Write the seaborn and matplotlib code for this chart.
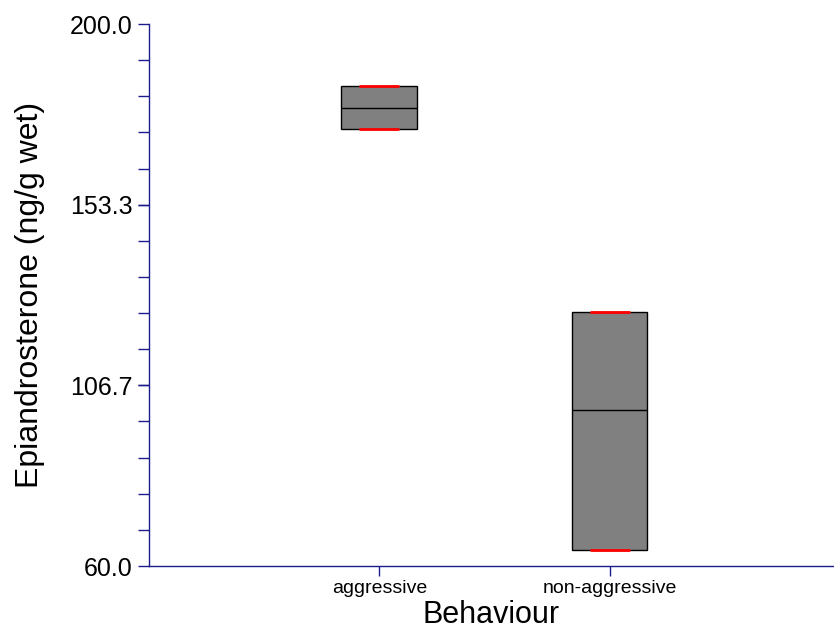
#! /usr/bin/env python3
"""Box chart of epiandrosterone by behaviour group."""

import matplotlib
matplotlib.use("Agg")
import matplotlib.pyplot as plt
import pandas as pd
import seaborn as sns
from matplotlib.ticker import FixedLocator

# data (min, q1, median, q3, max)
behaviours = ["aggressive", "non-aggressive"]
aggressive_vals = [172.9, 172.9, 178.3, 184.0, 184.0]
non_aggressive_vals = [64.1, 64.1, 100.3, 125.6, 125.6]

y_ticks = [60.0, 106.7, 153.3, 200.0]
y_tick_labels = ["60.0", "106.7", "153.3", "200.0"]

navy = "#1c1c8c"

data = pd.DataFrame({
    "Behaviour": [behaviours[0]] * len(aggressive_vals)
    + [behaviours[1]] * len(non_aggressive_vals),
    "value": aggressive_vals + non_aggressive_vals,
})

sns.set_style("white")
plt.rcParams["font.family"] = ["Liberation Sans", "DejaVu Sans"]
plt.rcParams["text.color"] = "black"
plt.rcParams["axes.labelcolor"] = "black"

fig = plt.figure(figsize=(8.34, 6.37), dpi=100)
ax = fig.add_axes([149 / 834, 71 / 637, 685 / 834, 542 / 637])

sns.boxplot(data=data, x="Behaviour", y="value", order=behaviours,
            width=0.33, color="#808080", saturation=1, whis=(0, 100),
            showfliers=False, linecolor="black", linewidth=1,
            boxprops=dict(facecolor="#808080", edgecolor="black"),
            medianprops=dict(color="black", linewidth=1),
            whiskerprops=dict(color="black", linewidth=1),
            capprops=dict(color="red", linewidth=2),
            ax=ax)

ax.set_xlim(-1.0, 1.975)
ax.set_ylim(60, 200)

ax.set_yticks(y_ticks)
ax.set_yticklabels(y_tick_labels, fontsize=18)
minor = [60 + i * 140 / 15 for i in range(16)]
ax.yaxis.set_minor_locator(FixedLocator(minor))
ax.tick_params(axis="x", labelsize=14, colors=navy, labelcolor="black",
               direction="out", length=7, width=1, bottom=True, pad=3)
ax.tick_params(axis="y", which="both", colors=navy, labelcolor="black",
               direction="out", length=8, width=1, left=True, pad=4)

ax.set_xlabel("Behaviour", fontsize=22, labelpad=2)
ax.set_ylabel("Epiandrosterone (ng/g wet)", fontsize=23, labelpad=18)

for side in ["top", "right"]:
    ax.spines[side].set_visible(False)
for side in ["left", "bottom"]:
    ax.spines[side].set_color(navy)
    ax.spines[side].set_linewidth(1)

plt.savefig("out.png", dpi=100)
plt.close()
